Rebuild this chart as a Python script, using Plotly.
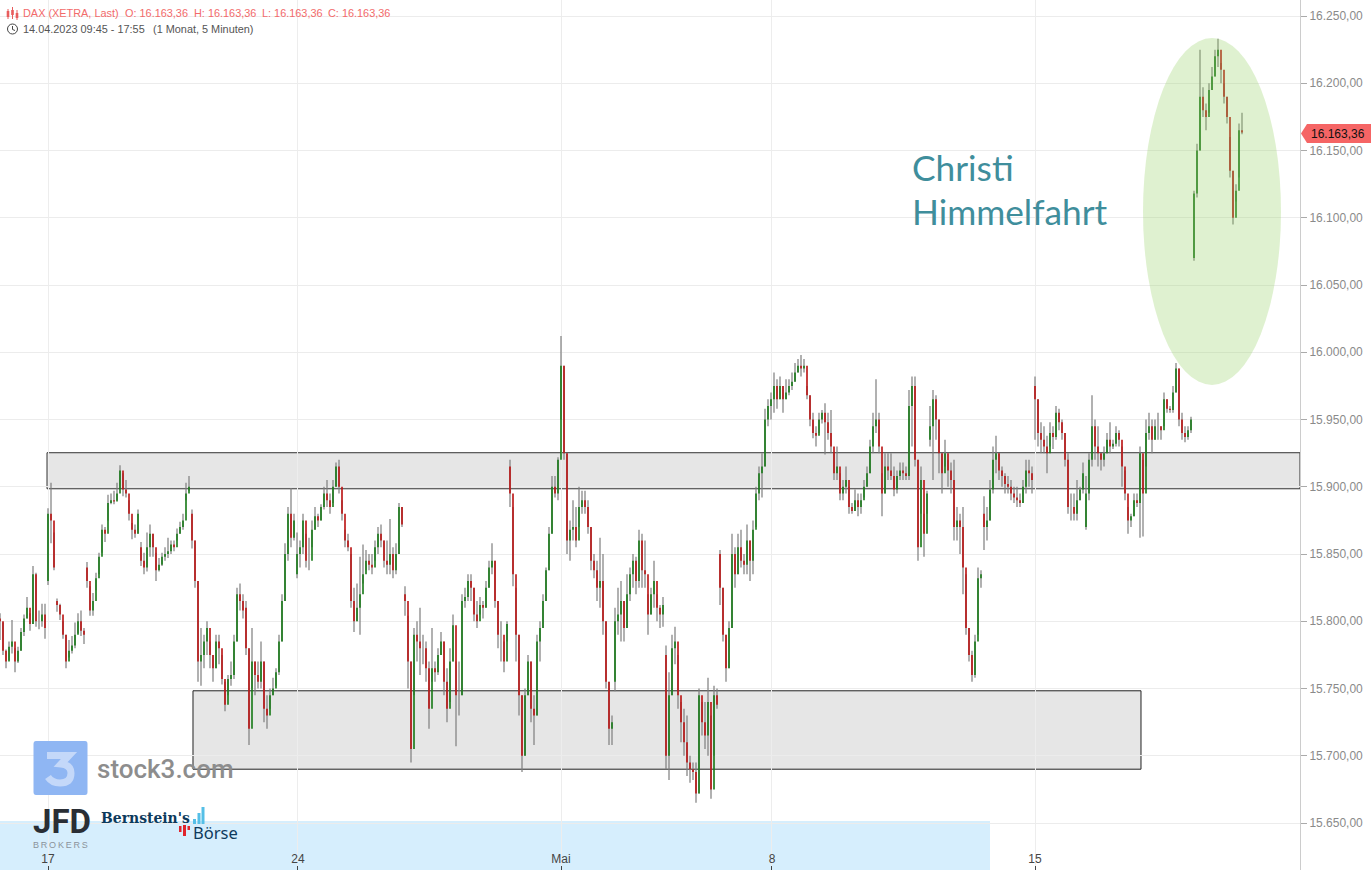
import plotly.graph_objects as go

highs = [
15806,15799,15779,15785,15801,15780,15781,15795,15805,15818,
15806,15841,15836,15808,15813,15813,15884,15903,15866,15817,
15813,15800,15790,15786,15789,15799,15806,15808,15795,15844,
15826,15821,15836,15851,15872,15870,15894,15895,15897,15903,
15916,15910,15905,15890,15873,15872,15883,15859,15851,15866,
15872,15865,15851,15847,15851,15855,15862,15860,15860,15869,
15874,15880,15903,15908,15883,15860,15830,15795,15790,15800,
15785,15775,15790,15790,15775,15755,15760,15770,15790,15825,
15828,15820,15815,15780,15795,15770,15770,15785,15770,15745,
15750,15758,15765,15790,15820,15858,15885,15899,15880,15866,
15860,15880,15865,15862,15875,15885,15880,15887,15900,15905,
15895,15905,15918,15920,15890,15868,15865,15850,15825,15828,
15848,15857,15853,15850,15850,15860,15870,15872,15860,15860,
15876,15855,15858,15888,15885,15826,15804,15770,15795,15800,
15810,15790,15785,15770,15795,15770,15780,15792,15785,15765,
15780,15805,15770,15770,15820,15825,15835,15835,15825,15815,
15818,15815,15830,15845,15858,15845,15815,15800,15785,15800,
15920,15885,15825,15790,15745,15750,15775,15770,15745,15790,
15800,15820,15840,15870,15908,15908,15922,16012,15990,15925,
15875,15890,15885,15900,15897,15897,15890,15870,15850,15845,
15862,15850,15800,15755,15730,15810,15825,15830,15815,15835,
15840,15850,15848,15868,15865,15860,15820,15825,15845,15820,
15812,15818,15782,15762,15790,15796,15775,15740,15735,15730,
15700,15695,15695,15750,15740,15740,15758,15730,15752,15750,
15853,15825,15790,15800,15865,15855,15865,15868,15850,15872,
15860,15875,15900,15915,15925,15958,15965,15970,15985,15980,
15982,15975,15980,15980,15985,15992,15995,15998,15995,15975,
15968,15955,15945,15955,15957,15962,15955,15957,15925,15930,
15910,15905,15915,15900,15888,15898,15895,15895,15905,15915,
15935,15955,15980,15955,15910,15925,15925,15925,15915,15912,
15918,15918,15915,15972,15982,15982,15920,15915,15880,15897,
15960,15972,15968,15950,15925,15935,15920,15918,15920,15885,
15880,15885,15835,15795,15778,15790,15840,15838,15893,15885,
15905,15930,15938,15925,15915,15910,15908,15905,15900,15900,
15895,15905,15920,15920,15915,15982,15965,15948,15945,15938,
15948,15945,15960,15958,15950,15940,15925,15895,15895,15905,
15900,15918,15908,15925,15968,15950,15945,15925,15930,15940,
15948,15935,15945,15942,15930,15912,15885,15880,15895,15895,
15930,15920,15950,15955,15950,15950,15955,15945,15970,15965,
15960,15975,15992,15988,15955,15945,15945,15952,16120,16155,
16225,16197,16185,16200,16212,16225,16233,16215,16200,16190,
16160,16135,16125,16170,16178]

lows = [
15786,15775,15765,15771,15776,15762,15769,15778,15789,15802,
15793,15798,15796,15794,15796,15787,15827,15858,15838,15807,
15801,15787,15765,15773,15776,15780,15791,15789,15783,15825,
15804,15804,15823,15835,15851,15859,15875,15887,15887,15890,
15899,15893,15892,15875,15861,15862,15865,15841,15835,15837,
15848,15848,15830,15837,15841,15845,15847,15850,15852,15860,
15865,15868,15890,15897,15854,15825,15755,15752,15765,15775,
15765,15755,15765,15768,15753,15733,15745,15752,15757,15785,
15808,15802,15775,15708,15750,15745,15750,15750,15725,15720,
15735,15745,15752,15760,15785,15815,15845,15855,15860,15832,
15840,15850,15840,15838,15855,15868,15870,15875,15883,15885,
15880,15888,15900,15895,15875,15855,15852,15810,15792,15800,
15790,15828,15838,15838,15835,15845,15850,15855,15840,15835,
15835,15832,15835,15850,15870,15804,15750,15695,15745,15770,
15760,15768,15755,15720,15755,15755,15760,15775,15745,15725,
15740,15770,15707,15730,15745,15810,15815,15815,15800,15795,
15805,15802,15810,15825,15835,15810,15780,15770,15762,15785,
15885,15826,15770,15730,15688,15700,15745,15725,15708,15730,
15770,15795,15815,15838,15865,15892,15890,15950,15920,15850,
15845,15860,15855,15870,15880,15880,15865,15838,15832,15815,
15810,15790,15750,15708,15708,15748,15790,15785,15785,15795,
15815,15825,15820,15825,15825,15825,15790,15805,15810,15800,
15795,15796,15690,15682,15745,15768,15735,15710,15700,15685,
15680,15682,15665,15672,15715,15705,15700,15668,15700,15735,
15812,15785,15755,15765,15795,15825,15835,15840,15835,15835,
15830,15835,15870,15890,15892,15915,15945,15950,15955,15958,
15965,15955,15965,15968,15972,15978,15985,15982,15985,15965,
15945,15936,15930,15940,15947,15924,15935,15925,15905,15905,
15890,15890,15895,15880,15880,15882,15878,15880,15892,15900,
15910,15925,15940,15925,15878,15895,15905,15905,15893,15895,
15905,15905,15905,15905,15930,15915,15845,15880,15848,15880,
15930,15905,15935,15910,15895,15915,15900,15895,15860,15860,
15850,15820,15790,15770,15755,15758,15790,15825,15853,15860,
15875,15895,15910,15905,15900,15895,15895,15890,15888,15885,
15885,15888,15895,15900,15895,15935,15930,15925,15925,15910,
15930,15928,15935,15942,15935,15915,15880,15875,15875,15875,
15890,15895,15868,15890,15915,15920,15915,15912,15915,15925,
15925,15928,15930,15930,15900,15890,15865,15870,15878,15885,
15862,15863,15915,15935,15925,15935,15935,15935,15945,15955,
15955,15955,15970,15945,15935,15933,15935,15940,16068,16115,
16150,16175,16165,16178,16195,16205,16212,16200,16185,16170,
16130,16095,16112,16130,16162]

closes = [
15800,15778,15770,15781,15785,15770,15778,15792,15802,15810,
15798,15835,15800,15800,15805,15795,15880,15875,15840,15812,
15805,15790,15770,15778,15782,15790,15800,15793,15790,15830,
15808,15815,15832,15848,15868,15865,15888,15890,15889,15895,
15912,15898,15895,15880,15868,15865,15880,15845,15840,15855,
15865,15855,15838,15842,15848,15850,15852,15857,15855,15865,
15870,15875,15895,15900,15860,15830,15770,15775,15785,15795,
15775,15765,15785,15780,15757,15738,15757,15760,15785,15820,
15815,15808,15780,15720,15770,15760,15755,15770,15735,15730,
15745,15750,15762,15785,15815,15850,15880,15862,15875,15850,
15855,15875,15845,15845,15868,15878,15875,15885,15895,15890,
15885,15900,15915,15900,15880,15860,15855,15815,15800,15810,
15820,15835,15845,15842,15840,15855,15865,15860,15845,15842,
15850,15838,15850,15885,15872,15815,15770,15705,15790,15785,
15780,15780,15765,15735,15765,15762,15775,15785,15755,15735,
15770,15797,15745,15745,15815,15818,15830,15825,15805,15800,
15812,15810,15825,15840,15845,15815,15790,15790,15770,15798,
15895,15835,15790,15745,15700,15745,15770,15735,15730,15785,
15795,15815,15838,15865,15900,15895,15920,15990,15925,15860,
15868,15870,15860,15885,15890,15885,15870,15845,15838,15825,
15830,15800,15755,15720,15725,15800,15805,15815,15795,15820,
15835,15845,15830,15860,15838,15835,15805,15820,15830,15810,
15805,15812,15700,15745,15780,15785,15745,15725,15710,15695,
15690,15688,15672,15745,15725,15715,15740,15675,15745,15738,
15825,15790,15765,15795,15850,15835,15855,15845,15842,15860,
15845,15868,15895,15910,15915,15950,15960,15965,15975,15965,
15975,15965,15970,15975,15978,15985,15990,15988,15990,15968,
15950,15940,15938,15950,15955,15948,15940,15930,15910,15915,
15895,15900,15905,15885,15882,15890,15885,15890,15900,15910,
15930,15945,15950,15930,15895,15915,15912,15908,15898,15908,
15912,15910,15908,15960,15975,15920,15855,15905,15865,15895,
15945,15965,15950,15925,15910,15925,15912,15905,15870,15875,
15870,15840,15795,15775,15760,15785,15832,15835,15870,15875,
15898,15920,15925,15912,15908,15902,15900,15895,15892,15890,
15888,15900,15912,15910,15905,15965,15940,15935,15930,15925,
15940,15937,15955,15948,15940,15920,15885,15885,15880,15890,
15898,15910,15895,15920,15945,15930,15925,15920,15925,15935,
15930,15932,15940,15935,15915,15895,15875,15878,15890,15888,
15925,15895,15940,15945,15935,15945,15945,15942,15965,15958,
15957,15970,15988,15950,15940,15937,15942,15950,16118,16150,
16190,16180,16175,16195,16205,16220,16225,16210,16190,16175,
16135,16100,16120,16165,16163.36]

session_starts = [16, 19, 29, 47, 64, 82, 99, 135, 170, 205, 222, 240, 310, 328, 345, 362, 398]
session_opens = [15830, 15815, 15840, 15855, 15880, 15810, 15835, 15820, 15915, 15755, 15775, 15850, 15935, 15880, 15975, 15870, 16070]
first_open = 15802

date_labels = ["17", "24", "Mai", "8", "15"]
date_bars = [16, 99.33, 187, 257.33, 345]

price_ticks = [15650, 15700, 15750, 15800, 15850, 15900, 15950, 16000, 16050, 16100, 16150, 16200, 16250]
price_labels = ["15.650,00", "15.700,00", "15.750,00", "15.800,00", "15.850,00", "15.900,00", "15.950,00",
                "16.000,00", "16.050,00", "16.100,00", "16.150,00", "16.200,00", "16.250,00"]

zone_upper = [15898.5, 15925.3]
zone_lower = [15690, 15748.3]
highlight = [15975.7, 16233.6]

n = len(closes)
assert len(highs) == n and len(lows) == n, (len(highs), len(lows), n)
starts = dict(zip(session_starts, session_opens))
opens = [first_open] + [starts.get(i, closes[i - 1]) for i in range(1, n)]
bars = list(range(n))
body_hi = [max(a, b) for a, b in zip(opens, closes)]
body_lo = [min(a, b) for a, b in zip(opens, closes)]

W, H, PW = 1371, 870, 1300
def px(x): return x / PW
def py(y): return 1 - y / H

fig = go.Figure()
fig.add_trace(go.Ohlc(
    x=bars, open=opens, high=highs, low=lows, close=closes, tickwidth=0, hoverinfo="skip",
    increasing=dict(line=dict(color="#7d7d7d", width=1.2)),
    decreasing=dict(line=dict(color="#7d7d7d", width=1.2)), showlegend=False))
fig.add_trace(go.Ohlc(
    x=bars, open=opens, high=body_hi, low=body_lo, close=closes, tickwidth=0, hoverinfo="skip",
    increasing=dict(line=dict(color="#157815", width=1.6)),
    decreasing=dict(line=dict(color="#b90f0f", width=1.6)), showlegend=False))

shapes = [
    dict(type="rect", xref="paper", yref="paper", x0=0, x1=px(990), y0=py(821), y1=0, layer="below",
         fillcolor="#d6eefd", line_width=0),
    dict(type="rect", xref="x", yref="y", x0=15.67, x1=433.33, y0=zone_upper[0], y1=zone_upper[1], layer="below",
         fillcolor="rgba(100,100,100,0.16)", line=dict(color="#333", width=1)),
    dict(type="rect", xref="x", yref="y", x0=64.33, x1=380.33, y0=zone_lower[0], y1=zone_lower[1], layer="below",
         fillcolor="rgba(100,100,100,0.16)", line=dict(color="#222", width=1)),
    dict(type="circle", xref="x", yref="y", x0=381, x1=427, y0=highlight[0], y1=highlight[1], layer="above",
         fillcolor="rgba(150,210,100,0.3)", line_width=0),
    # price tag
    dict(type="path", xref="paper", yref="paper", fillcolor="#f56565", line_width=0,
         path=f"M {px(1301)},{py(133.5)} L {px(1307)},{py(124)} L {px(1371)},{py(124)} L {px(1371)},{py(143)} L {px(1307)},{py(143)} Z"),
    # clock icon
    dict(type="circle", xref="paper", yref="paper", x0=px(7.5), x1=px(17.5), y0=py(24), y1=py(34), line=dict(color="#444", width=1)),
    dict(type="path", xref="paper", yref="paper", line=dict(color="#444", width=1),
         path=f"M {px(12.5)},{py(26)} L {px(12.5)},{py(29.5)} L {px(15)},{py(30.5)}"),
    # stock3 tile (rounded) and its glyph
    dict(type="path", xref="paper", yref="paper", fillcolor="#8fb6f3", line_width=0,
         path=f"M {px(36)},{py(741)} L {px(85)},{py(741)} Q {px(87.5)},{py(741)} {px(87.5)},{py(744)} L {px(87.5)},{py(792)} "
              f"Q {px(87.5)},{py(795)} {px(85)},{py(795)} L {px(36)},{py(795)} Q {px(33.5)},{py(795)} {px(33.5)},{py(792)} "
              f"L {px(33.5)},{py(744)} Q {px(33.5)},{py(741)} {px(36)},{py(741)} Z"),
    dict(type="path", xref="paper", yref="paper", line=dict(color="#c4d8f9", width=7),
         path=f"M {px(47)},{py(755.5)} L {px(69)},{py(755.5)} L {px(61)},{py(764)} Q {px(71)},{py(765)} {px(71)},{py(773)} "
              f"Q {px(71)},{py(783)} {px(60)},{py(783)} Q {px(52)},{py(783)} {px(48)},{py(777)}"),
]
# candle icon in the header
for x, a, b, c, d in [(8, 9, 19, 11, 17), (12.5, 7, 19, 10, 15), (17, 10, 20, 13, 18)]:
    shapes.append(dict(type="line", xref="paper", yref="paper", x0=px(x), x1=px(x), y0=py(a), y1=py(b), line=dict(color="#e85c5c", width=1)))
    shapes.append(dict(type="rect", xref="paper", yref="paper", x0=px(x - 1.3), x1=px(x + 1.3), y0=py(c), y1=py(d), fillcolor="#e85c5c", line_width=0))
# Bernstein's bars + red mark
for x0, x1, y0, y1, col in [(193, 196, 819, 824, "#55bfe6"), (197.5, 200.5, 813, 824, "#55bfe6"), (201.5, 204.5, 807, 824, "#55bfe6"),
                            (179, 181.5, 826, 832, "#e0242c"), (183, 186, 825, 836, "#e0242c"), (187.5, 190, 826, 830, "#e0242c")]:
    shapes.append(dict(type="rect", xref="paper", yref="paper", x0=px(x0), x1=px(x1), y0=py(y0), y1=py(y1), fillcolor=col, line_width=0))

def note(x, y, text, size, color, family="Liberation Sans", anchor="left", weight=None):
    font = dict(size=size, color=color, family=family)
    if weight:
        font["weight"] = weight
    return dict(xref="paper", yref="paper", x=px(x), y=py(y), text=text, showarrow=False, xanchor=anchor, yanchor="middle",
                font=font, borderpad=0)

red = "#f26a6a"
annotations = [
    note(22, 13, "DAX (XETRA, Last)", 10.9, red), note(124, 13, "O: 16.163,36", 10.9, red), note(193, 13, "H: 16.163,36", 10.9, red),
    note(261, 13, "L: 16.163,36", 10.9, red), note(327, 13, "C: 16.163,36", 10.9, red),
    note(22, 29, "14.04.2023 09:45 - 17:55", 10.9, "#555"), note(152, 29, "(1 Monat, 5 Minuten)", 10.9, "#555"),
    note(911, 168, "Christi", 35.3, "#3f8e9c", "Lato"), note(911, 212, "Himmelfahrt", 35.3, "#3f8e9c", "Lato"),
    note(1310, 133.5, "16.163,36", 12, "#111"),
    note(96, 769, "stock3.com", 26, "#8d8d8d", "Roboto", weight=500),
    note(32, 821, "<b>JFD</b>", 33, "#2a2e35", "Roboto"),
    note(32, 845, "B\u2009R\u2009O\u2009K\u2009E\u2009R\u2009S", 9, "#8b939b"),
    note(99.5, 817, "<b>Bernstein's</b>", 15.5, "#0d3a5c", "DejaVu Serif Condensed"),
    note(191.5, 832, "Börse", 16.5, "#0d3a5c", "Noto Sans"),
]

fig.update_layout(
    width=W, height=H, margin=dict(l=0, r=W - PW, t=0, b=0), paper_bgcolor="white", plot_bgcolor="white",
    showlegend=False, shapes=shapes, annotations=annotations,
    font=dict(family="Liberation Sans", size=12, color="#8a8a8a"),
    xaxis=dict(range=[0, PW / 3], rangeslider=dict(visible=False), tickmode="array", tickvals=date_bars, ticktext=date_labels,
               showgrid=True, gridcolor="#ededed", gridwidth=1, zeroline=False, showline=False,
               ticks="inside", ticklen=4, tickcolor="#444", ticklabelposition="inside",
               tickfont=dict(size=12, color="#444")),
    yaxis=dict(range=[15650 - 47 / 1.345, 16250 + 16 / 1.345], side="right", tickmode="array", tickvals=price_ticks, ticktext=price_labels,
               showgrid=True, gridcolor="#ececec", gridwidth=1, zeroline=False, showline=True, linecolor="#cccccc", linewidth=1,
               ticks="outside", ticklen=6, tickcolor="#aaa", tickfont=dict(size=12, color="#8a8a8a")),
)

fig.write_html("out.html", config={"displayModeBar": False}, post_script="document.body.style.margin='0';")
